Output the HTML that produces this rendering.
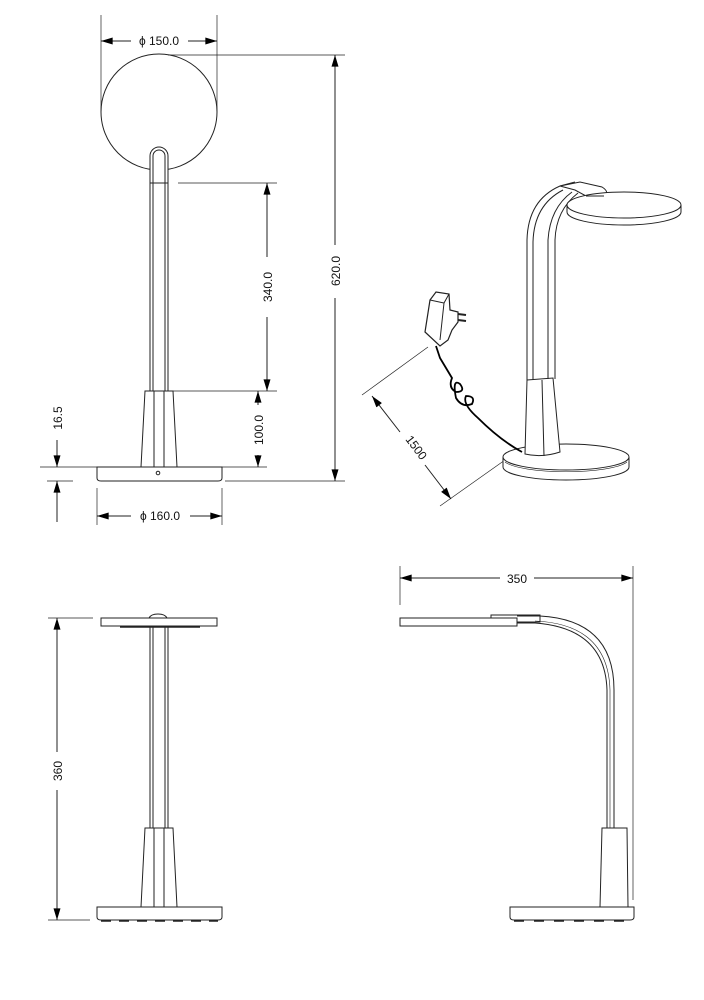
<!DOCTYPE html>
<html><head><meta charset="utf-8"><style>
html,body{margin:0;padding:0;background:#fff}
svg{display:block}
text{font-family:"Liberation Sans",sans-serif;font-size:12px;fill:#111}
</style></head><body>
<svg width="704" height="1000" viewBox="0 0 704 1000" xmlns="http://www.w3.org/2000/svg">
<defs>
<marker id="a" viewBox="0 0 10 6" refX="10" refY="3" markerWidth="14" markerHeight="7" markerUnits="userSpaceOnUse" orient="auto-start-reverse">
<path d="M0,0 L10,3 L0,6 Z" fill="#000"/></marker>
</defs>
<g fill="none" stroke="#222" stroke-width="1">
<!-- TOP LEFT: front view -->
<line x1="101" y1="15" x2="101" y2="112" stroke-width="0.7"/>
<line x1="217" y1="15" x2="217" y2="112" stroke-width="0.7"/>
<line x1="101" y1="41" x2="131" y2="41" marker-start="url(#a)"/>
<line x1="188" y1="41" x2="217" y2="41" marker-end="url(#a)"/>
<circle cx="159" cy="112" r="58"/>
<path d="M150,391 L150,156 A9,9 0 0 1 168,156 L168,391" fill="#fff"/>
<path d="M153,391 L153,156 A6,6 0 0 1 165,156 L165,391"/>
<line x1="150" y1="183" x2="168" y2="183"/>
<path d="M145,391 L173,391 L177,467 L141,467 Z" fill="#fff"/>
<line x1="154" y1="391" x2="154" y2="467"/><line x1="164" y1="391" x2="164" y2="467"/>
<path d="M97,467 L222,467 L222,478 Q222,481 218,481 L101,481 Q97,481 97,478 Z"/>
<circle cx="158" cy="473" r="1.8"/>
<!-- dims -->
<line x1="168" y1="55" x2="345" y2="55" stroke-width="0.7"/>
<line x1="225" y1="481" x2="345" y2="481" stroke-width="0.7"/>
<line x1="47" y1="481" x2="73" y2="481" stroke-width="0.7"/>
<line x1="335" y1="55" x2="335" y2="245" marker-start="url(#a)"/>
<line x1="335" y1="298" x2="335" y2="481" marker-end="url(#a)"/>
<line x1="178" y1="183" x2="277" y2="183" stroke-width="0.7"/>
<line x1="173" y1="391" x2="277" y2="391" stroke-width="0.7"/>
<line x1="267" y1="183" x2="267" y2="257" marker-start="url(#a)"/>
<line x1="267" y1="317" x2="267" y2="391" marker-end="url(#a)"/>
<line x1="40" y1="467" x2="267" y2="467" stroke-width="0.7"/>
<line x1="258" y1="391" x2="258" y2="405" marker-start="url(#a)"/>
<line x1="258" y1="455" x2="258" y2="467" marker-end="url(#a)"/>
<line x1="57" y1="440" x2="57" y2="467" marker-end="url(#a)"/>
<line x1="57" y1="522" x2="57" y2="481" marker-end="url(#a)"/>
<line x1="97" y1="488" x2="97" y2="525" stroke-width="0.7"/>
<line x1="222" y1="488" x2="222" y2="525" stroke-width="0.7"/>
<line x1="97" y1="516" x2="131" y2="516" marker-start="url(#a)"/>
<line x1="190" y1="516" x2="222" y2="516" marker-end="url(#a)"/>

<!-- TOP RIGHT: iso view -->
<line x1="428" y1="347" x2="362" y2="395" stroke-width="0.7"/>
<line x1="505" y1="460" x2="440" y2="506" stroke-width="0.7"/>
<line x1="372" y1="396" x2="400" y2="432" marker-start="url(#a)"/>
<line x1="425" y1="465" x2="451" y2="499" marker-end="url(#a)"/>
<!-- base -->
<path d="M503,457 L503,467 A63,13 0 0 0 629,467 L629,457" fill="#fff"/>
<ellipse cx="566" cy="457" rx="63" ry="13" fill="#fff"/>
<path d="M505,462 A63,13 0 0 0 627,462" stroke-width="0.6"/>
<!-- cone -->
<path d="M527,380 L553,378 L560,452 Q542,458 525,454 Z" fill="#fff"/>
<line x1="542" y1="380" x2="544" y2="456"/>
<!-- arm -->
<path d="M527,380 L527,240 Q528,200 560,186 L575,182" />
<path d="M555,379 L555,240 Q556,210 578,193" />
<path d="M533,380 L533,242 Q534,205 563,190"/>
<path d="M548,379 L548,240 Q550,208 572,192"/>
<path d="M560,186 L580,182 L602,187 Q610,192 604,196 L586,196 L575,190 Z" fill="#fff"/>
<!-- head -->
<path d="M567,205 L567,212 A57,13 0 0 0 681,212 L681,205" fill="#fff"/>
<ellipse cx="624" cy="205" rx="57" ry="13" fill="#fff"/>
<path d="M586,196 L604,196" />
<!-- adapter -->
<path d="M425,332 L430,300 L436,292 L449,294 L450,310 L458,312 L458,322 L452,330 L448,340 L440,346 Z" fill="#fff" stroke-width="1.2"/>
<path d="M430,300 L444,303 L440,340 M444,303 L449,294" stroke-width="1"/>
<line x1="458" y1="314" x2="466" y2="315" stroke-width="2"/>
<line x1="458" y1="320" x2="466" y2="321" stroke-width="2"/>
<!-- cord -->
<path d="M436,346 L440,358 Q446,368 452,378 Q448,388 456,392 Q466,392 460,384 Q452,378 456,398 Q462,408 472,404 Q476,396 466,396 Q462,404 478,418 Q500,440 522,452" stroke="#000" stroke-width="1.8"/>

<!-- BOTTOM LEFT -->
<line x1="48" y1="618" x2="93" y2="618" stroke-width="0.7"/>
<line x1="48" y1="920" x2="90" y2="920" stroke-width="0.7"/>
<line x1="57" y1="618" x2="57" y2="752" marker-start="url(#a)"/>
<line x1="57" y1="790" x2="57" y2="920" marker-end="url(#a)"/>
<rect x="101" y="618" width="116" height="8" fill="#fff"/>
<path d="M149,618 Q151,614 158,614 Q165,614 167,618"/>
<line x1="120" y1="627" x2="200" y2="627" stroke-width="1.5"/>
<line x1="150" y1="626" x2="150" y2="828"/><line x1="153" y1="626" x2="153" y2="828"/>
<line x1="165" y1="626" x2="165" y2="828"/><line x1="168" y1="626" x2="168" y2="828"/>
<path d="M145,828 L173,828 L177,907 L141,907 Z" fill="#fff"/>
<line x1="154" y1="828" x2="154" y2="907"/><line x1="164" y1="828" x2="164" y2="907"/>
<path d="M97,907 L222,907 L222,917 Q222,920 218,920 L101,920 Q97,920 97,917 Z" fill="#fff"/>
<path d="M101,921 L218,921" stroke-width="1.6" stroke-dasharray="10,8"/>

<!-- BOTTOM RIGHT -->
<line x1="400" y1="566" x2="400" y2="605" stroke-width="0.7"/>
<line x1="633" y1="566" x2="633" y2="900" stroke-width="0.7"/>
<line x1="400" y1="578" x2="500" y2="578" marker-start="url(#a)"/>
<line x1="534" y1="578" x2="633" y2="578" marker-end="url(#a)"/>
<rect x="400" y="618" width="117" height="8" fill="#fff"/>
<path d="M491,618 L491,615 L540,615 L540,622 L517,622"/>
<path d="M517,616 L540,616 Q614,620 614,690 L614,828"/>
<path d="M517,623 L535,623 Q605,628 607,690 L607,828"/>
<path d="M535,621 Q608,624 610,690 L610,828" stroke-width="0.6"/>
<path d="M602,828 L627,828 L628,907 L600,907 Z" fill="#fff"/>
<path d="M510,907 L634,907 L634,917 Q634,920 630,920 L514,920 Q510,920 510,917 Z" fill="#fff"/>
<path d="M514,921 L630,921" stroke-width="1.6" stroke-dasharray="10,10"/>
</g>
<g>
<text x="159" y="45" text-anchor="middle">ϕ 150.0</text>
<text x="160" y="520" text-anchor="middle">ϕ 160.0</text>
<text transform="translate(340,271) rotate(-90)" text-anchor="middle">620.0</text>
<text transform="translate(272,287) rotate(-90)" text-anchor="middle">340.0</text>
<text transform="translate(263,430) rotate(-90)" text-anchor="middle">100.0</text>
<text transform="translate(62,418) rotate(-90)" text-anchor="middle">16.5</text>
<text transform="translate(413,450) rotate(53)" text-anchor="middle">1500</text>
<text transform="translate(62,771) rotate(-90)" text-anchor="middle">360</text>
<text x="517" y="583" text-anchor="middle">350</text>
</g>
</svg>
</body></html>
